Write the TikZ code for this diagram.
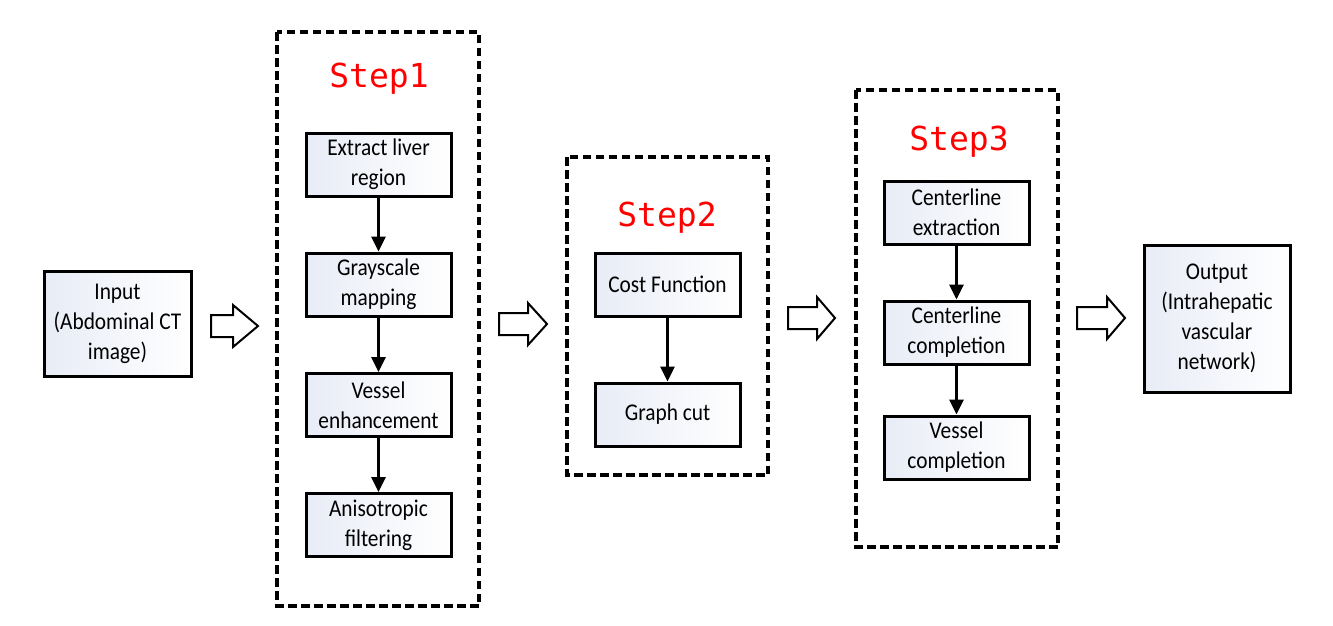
\documentclass[tikz,border=0pt]{standalone}
\usepackage{fontspec}
\setmainfont{Carlito}
\newfontfamily\boxfont[FakeStretch=0.89]{Carlito}
\newfontfamily\stepfont{DejaVu Sans Mono}
\usetikzlibrary{arrows.meta}
\definecolor{boxshade}{RGB}{232,236,246}
\definecolor{stepred}{RGB}{255,0,0}
\tikzset{
  procbox/.style={draw=black, line width=3pt, left color=boxshade, right color=white,
    minimum width=145pt, inner sep=2pt, align=center,
    font=\boxfont\fontsize{24}{30}\selectfont},
  stepframe/.style={draw=black, line width=3.4pt, dash pattern=on 8.5pt off 4.5pt},
  steplabel/.style={text=stepred, font=\stepfont\fontsize{33}{36}\selectfont, inner sep=0pt},
  flow/.style={line width=3.2pt, -{Triangle[length=15pt,width=14pt]}},
  hollow/.style={draw=black, line width=2pt, fill=white, line join=miter}
}
\begin{document}
\begin{tikzpicture}[x=1pt,y=-1pt]
\useasboundingbox (0,0) rectangle (1333,625);

% dashed step frames
\draw[stepframe] (277,32) rectangle (479,606);
\draw[stepframe] (567,157) rectangle (768,475);
\draw[stepframe] (856,90) rectangle (1058,547);

\node[steplabel] (s1) at (379,79) {Step1};
\node[steplabel] (s2) at (667,218) {Step2};
\node[steplabel] (s3) at (959,142) {Step3};

% input / output
\node[procbox, minimum width=147pt, minimum height=105pt] (in) at (117.5,323.5) {Input\\(Abdominal CT\\image)};
\node[procbox, minimum width=146pt, minimum height=147pt] (out) at (1217,318.5) {Output\\(Intrahepatic\\vascular\\network)};

% step 1
\node[procbox, minimum height=63pt] (a1) at (378.5,164.5) {Extract liver\\region};
\node[procbox, minimum height=63pt] (a2) at (378.5,284.5) {Grayscale\\mapping};
\node[procbox, minimum height=63pt] (a3) at (378.5,405) {Vessel\\enhancement};
\node[procbox, minimum height=63pt] (a4) at (378.5,525) {Anisotropic\\filtering};
\draw[flow] (a1) -- (a2);
\draw[flow] (a2) -- (a3);
\draw[flow] (a3) -- (a4);

% step 2
\node[procbox, minimum height=63pt] (b1) at (667.5,284.5) {Cost Function};
\node[procbox, minimum height=63pt] (b2) at (667.5,414.5) {Graph cut};
\draw[flow] (b1) -- (b2);

% step 3
\node[procbox, minimum height=63pt] (c1) at (956.5,212.5) {Centerline\\extraction};
\node[procbox, minimum height=63pt] (c2) at (956.5,332.5) {Centerline\\completion};
\node[procbox, minimum height=63pt] (c3) at (956.5,447.5) {Vessel\\completion};
\draw[flow] (c1) -- (c2);
\draw[flow] (c2) -- (c3);

% hollow block arrows
\draw[hollow] (211,315) -- (233,315) -- (233,305) -- (258,326) -- (233,347) -- (233,337) -- (211,337) -- cycle;
\draw[hollow] (499,313) -- (528,313) -- (528,303) -- (547,324) -- (528,345) -- (528,335) -- (499,335) -- cycle;
\draw[hollow] (788,307) -- (817,307) -- (817,297) -- (835,318) -- (817,339) -- (817,329) -- (788,329) -- cycle;
\draw[hollow] (1077,307) -- (1107,307) -- (1107,297) -- (1125,318) -- (1107,339) -- (1107,329) -- (1077,329) -- cycle;
\end{tikzpicture}
\end{document}
